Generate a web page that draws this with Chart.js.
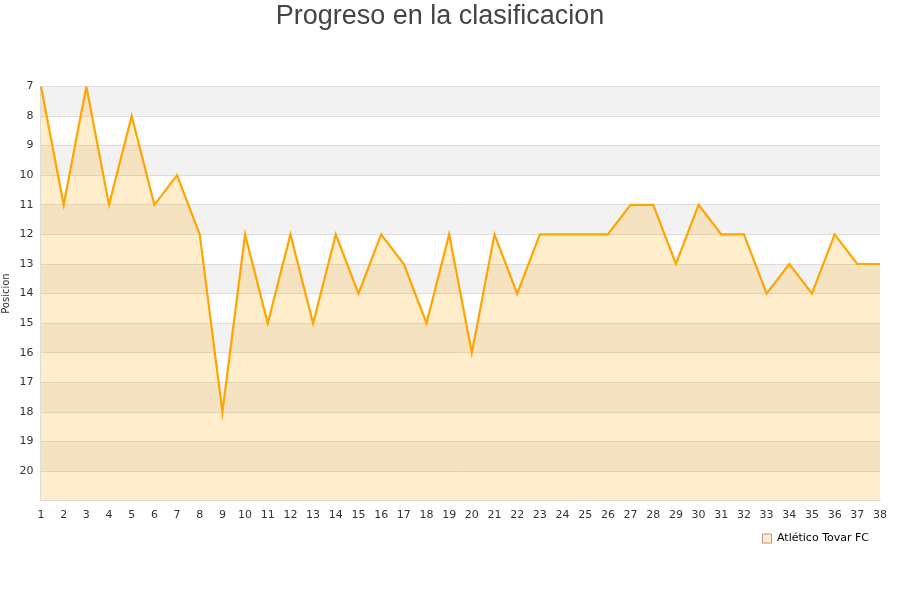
<!DOCTYPE html>
<html>
<head>
<meta charset="utf-8">
<script src="https://cdn.jsdelivr.net/npm/chart.js@4/dist/chart.umd.min.js"></script>
<style>
  html, body { margin: 0; padding: 0; background: #fff; }
  #wrap { width: 900px; height: 600px; }
</style>
</head>
<body>
<div id="wrap"><canvas id="posChart"></canvas></div>
<script>
// Jornadas y posiciones
const jornadas = ['1','2','3','4','5','6','7','8','9','10','11','12','13','14','15','16','17','18','19',
  '20','21','22','23','24','25','26','27','28','29','30','31','32','33','34','35','36','37','38'];
const posiciones = [7, 11, 7, 11, 8, 11, 10, 12, 18, 12, 15, 12, 15, 12, 14, 12, 13, 15, 12,
  16, 12, 14, 12, 12, 12, 12, 11, 11, 13, 11, 12, 12, 14, 13, 14, 12, 13, 13];
const equipo = 'Atlético Tovar FC';
const posMin = 7;
const posMax = 21;

// alternating bands behind the chart
const bandPlugin = {
  id: 'bands',
  beforeDraw(chart) {
    const { ctx, chartArea, scales } = chart;
    const y = scales.y;
    ctx.save();
    for (let v = posMin; v < posMax; v++) {
      const y1 = y.getPixelForValue(v);
      const y2 = y.getPixelForValue(v + 1);
      ctx.fillStyle = (v % 2 === 1) ? '#f2f2f2' : '#ffffff';
      ctx.fillRect(chartArea.left, Math.min(y1, y2), chartArea.right - chartArea.left, Math.abs(y2 - y1));
    }
    ctx.restore();
  }
};

const ctx = document.getElementById('posChart').getContext('2d');
new Chart(ctx, {
  type: 'line',
  data: {
    labels: jornadas,
    datasets: [{
      label: equipo,
      data: posiciones,
      borderColor: '#ffa500',
      backgroundColor: 'rgba(255, 165, 0, 0.2)',
      borderWidth: 2.2,
      pointRadius: 0,
      tension: 0,
      fill: 'start',
    }],
  },
  options: {
    responsive: true,
    maintainAspectRatio: false,
    animation: false,
    layout: { padding: { left: 0, right: 20, top: 0, bottom: 46 } },
    scales: {
      x: {
        offset: false,
        grid: { display: false },
        border: { color: '#dddddd' },
        ticks: { padding: 0, color: '#333', font: { family: 'DejaVu Sans', size: 11 }, maxRotation: 0, autoSkip: false },
      },
      y: {
        reverse: true,
        min: posMin,
        max: posMax,
        ticks: {
          stepSize: 1,
          padding: 7.5,
          color: '#333',
          font: { family: 'DejaVu Sans', size: 11 },
          callback: (v) => (v === posMax ? '' : v),
        },
        grid: { color: '#dddddd', drawTicks: false },
        border: { color: '#dddddd' },
        title: { display: true, text: 'Posicion', color: '#333', font: { family: 'DejaVu Sans', size: 10 }, padding: 0 },
      },
    },
    plugins: {
      title: {
        display: true,
        text: 'Progreso en la clasificacion',
        color: '#444',
        font: { family: 'Liberation Sans', size: 27, weight: 'normal' },
        padding: { top: 0, bottom: 54 },
      },
      legend: {
        position: 'bottom',
        align: 'end',
        labels: {
          boxWidth: 9,
          boxHeight: 9,
          padding: 11,
          color: '#000',
          font: { family: 'DejaVu Sans', size: 11 },
          generateLabels: (chart) => chart.data.datasets.map((ds, i) => ({
            text: ds.label,
            fillStyle: 'rgba(255, 165, 0, 0.2)',
            strokeStyle: '#b09a78',
            lineWidth: 1,
            fontColor: '#000',
            datasetIndex: i,
          })),
        },
      },
      tooltip: { enabled: false },
    },
  },
  plugins: [bandPlugin],
});
</script>
</body>
</html>
